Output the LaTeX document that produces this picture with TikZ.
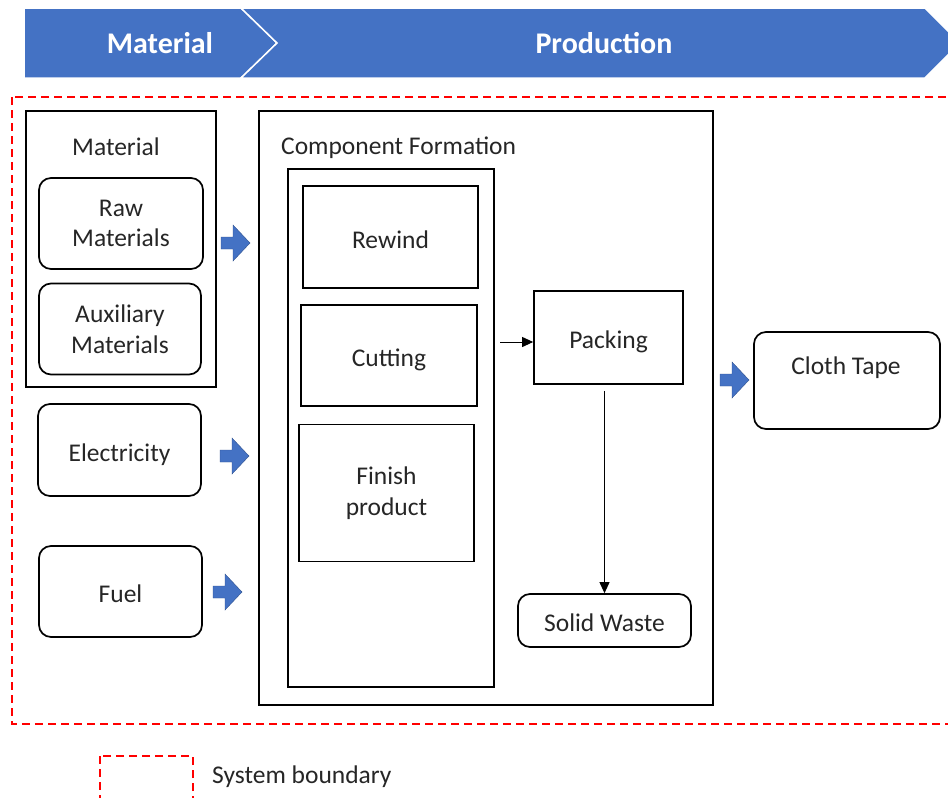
\documentclass[tikz,border=0pt]{standalone}
\usepackage{fontspec}
\setmainfont{Carlito}
\usetikzlibrary{arrows.meta}
\definecolor{hdrblue}{HTML}{4472C4}
\definecolor{arrblue}{HTML}{4472C4}
\definecolor{arredge}{HTML}{2F528F}
\tikzset{
  x=1pt, y=-1pt,
  box/.style={draw=black, line width=1.7pt, inner sep=0pt, align=center,
    font=\fontsize{25.5}{30.5}\selectfont, text=black!85},
  rbox/.style={box, rounded corners=12pt},
  oneline/.style={text height=22pt, text depth=0pt},
  lbl/.style={inner sep=0pt, font=\fontsize{25.5}{30.5}\selectfont, text=black!85},
  hdr/.style={fill=hdrblue, draw=white, line width=1.5pt},
  hdrtext/.style={text=white, font=\fontsize{30}{34}\selectfont\bfseries},
  boundary/.style={draw=red, line width=2.4pt, dash pattern=on 8pt off 5pt},
  blockarrow/.pic={
    \fill[arrblue, draw=arredge, line width=0.4pt]
      (0,-6)--(12,-6)--(12,-18)--(29,0)--(12,18)--(12,6)--(0,6)--cycle;
  }
}
\begin{document}
\begin{tikzpicture}
\useasboundingbox (0,0) rectangle (948,798);

% stage header chevrons
\draw[hdr] (24,8)--(241,8)--(277,43)--(241,78)--(24,78)--cycle;
\draw[hdr] (241,8)--(925,8)--(960,43)--(925,78)--(241,78)--(277,43)--cycle;
\node[hdrtext] (hmat) at (160,43) {Material};
\node[hdrtext] (hprod) at (604,43) {Production};

% system boundary
\draw[boundary] (12,97) rectangle (970,724);

% material inputs
\node[box, minimum width=190pt, minimum height=276pt] (matbox) at (121,249) {};
\node[lbl] (matlbl) at (116,147) {Material};
\node[rbox, minimum width=164pt, minimum height=91pt] (raw) at (121,223.5) {Raw\\Materials};
\node[rbox, minimum width=162pt, minimum height=91pt] (aux) at (120,329) {Auxiliary\\Materials};
\node[rbox, oneline, minimum width=163pt, minimum height=92pt] (elec) at (119.5,450) {Electricity};
\node[rbox, oneline, minimum width=163pt, minimum height=91pt] (fuel) at (120.5,591.5) {Fuel};

% production
\node[box, minimum width=454pt, minimum height=594pt] (comp) at (486,408) {};
\node[lbl, anchor=west] (complbl) at (281,148) {Component Formation};
\node[box, minimum width=206pt, minimum height=518pt] (inner) at (391,428) {};
\node[box, oneline, minimum width=175pt, minimum height=102pt] (rewind) at (390.5,237) {Rewind};
\node[box, oneline, minimum width=176pt, minimum height=101pt] (cutting) at (389,355.5) {Cutting};
\node[box, minimum width=175pt, minimum height=137pt] (finish) at (386.5,493) {Finish\\product};
\node[box, oneline, minimum width=149pt, minimum height=93pt] (packing) at (608.5,337.5) {Packing};
\node[rbox, oneline, minimum width=173pt, minimum height=53pt] (solid) at (604.5,620.5) {Solid Waste};

% output
\node[rbox, minimum width=186pt, minimum height=97pt] (cloth) at (847,380.5) {};
\node[lbl] (clothlbl) at (846,368) {Cloth Tape};

% flows
\coordinate (pin) at (500,342);
\draw[line width=1pt, -{Triangle[length=11pt,width=10pt]}] (pin) -- (packing.west |- pin);
\draw[line width=1pt, -{Triangle[length=11pt,width=10pt]}, shorten <=6pt]
  (packing.south -| solid.north) -- (solid.north);

\pic at (221,243) {blockarrow};
\pic at (220,456) {blockarrow};
\pic at (213,592) {blockarrow};
\pic at (720,380) {blockarrow};

% legend
\draw[boundary] (100,756) rectangle (193,805);
\node[lbl, anchor=west] (leglbl) at (212,777) {System boundary};
\end{tikzpicture}
\end{document}
